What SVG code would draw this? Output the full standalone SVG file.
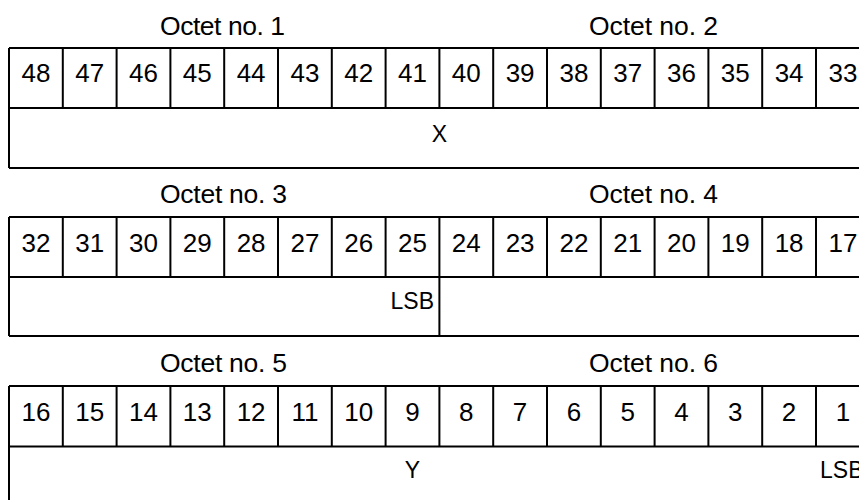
<svg xmlns="http://www.w3.org/2000/svg" width="859" height="500" viewBox="0 0 859 500">
<style>
.ln{stroke:#000;stroke-width:2;fill:none}
.t{font-family:"Liberation Sans",Arial,sans-serif;fill:#000}
.oc{font-size:26.5px}
.d{font-size:26px;text-anchor:middle}
.f{font-size:23px}
</style>
<rect width="859" height="500" fill="#fff"/>
<g id="labels">
<text class="t oc" x="160" y="35" textLength="125" lengthAdjust="spacing">Octet no. 1</text>
<text class="t oc" x="589" y="35" textLength="129" lengthAdjust="spacing">Octet no. 2</text>
<text class="t oc" x="160" y="203" textLength="127" lengthAdjust="spacing">Octet no. 3</text>
<text class="t oc" x="589" y="203" textLength="129" lengthAdjust="spacing">Octet no. 4</text>
<text class="t oc" x="160" y="372" textLength="127" lengthAdjust="spacing">Octet no. 5</text>
<text class="t oc" x="589" y="372" textLength="129" lengthAdjust="spacing">Octet no. 6</text>
</g>
<g id="row1">
<path class="ln" d="M9,48H870M9,108H870M9,168H870M9,48V168"/>
<path class="ln" d="M62.8,48V108M116.6,48V108M170.4,48V108M224.2,48V108M278,48V108M331.8,48V108M385.6,48V108M439.4,48V108M493.2,48V108M547,48V108M600.8,48V108M654.6,48V108M708.4,48V108M762.2,48V108M816,48V108"/>
<g class="t d">
<text x="35.9" y="82.3">48</text><text x="89.7" y="82.3">47</text><text x="143.5" y="82.3">46</text><text x="197.3" y="82.3">45</text><text x="251.1" y="82.3">44</text><text x="304.9" y="82.3">43</text><text x="358.7" y="82.3">42</text><text x="412.5" y="82.3">41</text><text x="466.3" y="82.3">40</text><text x="520.1" y="82.3">39</text><text x="573.9" y="82.3">38</text><text x="627.7" y="82.3">37</text><text x="681.5" y="82.3">36</text><text x="735.3" y="82.3">35</text><text x="789.1" y="82.3">34</text><text x="842.9" y="82.3">33</text>
</g>
<text class="t f" x="439.4" y="141.7" text-anchor="middle">X</text>
</g>
<g id="row2">
<path class="ln" d="M9,217H870M9,277H870M9,336H870M9,217V336M439.4,277V336"/>
<path class="ln" d="M62.8,217V277M116.6,217V277M170.4,217V277M224.2,217V277M278,217V277M331.8,217V277M385.6,217V277M439.4,217V277M493.2,217V277M547,217V277M600.8,217V277M654.6,217V277M708.4,217V277M762.2,217V277M816,217V277"/>
<g class="t d">
<text x="35.9" y="251.7">32</text><text x="89.7" y="251.7">31</text><text x="143.5" y="251.7">30</text><text x="197.3" y="251.7">29</text><text x="251.1" y="251.7">28</text><text x="304.9" y="251.7">27</text><text x="358.7" y="251.7">26</text><text x="412.5" y="251.7">25</text><text x="466.3" y="251.7">24</text><text x="520.1" y="251.7">23</text><text x="573.9" y="251.7">22</text><text x="627.7" y="251.7">21</text><text x="681.5" y="251.7">20</text><text x="735.3" y="251.7">19</text><text x="789.1" y="251.7">18</text><text x="842.9" y="251.7">17</text>
</g>
<text class="t f" x="434" y="309.3" text-anchor="end">LSB</text>
</g>
<g id="row3">
<path class="ln" d="M9,386H870M9,446.5H870M9,506H870M9,386V506"/>
<path class="ln" d="M62.8,386V446.5M116.6,386V446.5M170.4,386V446.5M224.2,386V446.5M278,386V446.5M331.8,386V446.5M385.6,386V446.5M439.4,386V446.5M493.2,386V446.5M547,386V446.5M600.8,386V446.5M654.6,386V446.5M708.4,386V446.5M762.2,386V446.5M816,386V446.5"/>
<g class="t d">
<text x="35.9" y="420.5">16</text><text x="89.7" y="420.5">15</text><text x="143.5" y="420.5">14</text><text x="197.3" y="420.5">13</text><text x="251.1" y="420.5">12</text><text x="304.9" y="420.5">11</text><text x="358.7" y="420.5">10</text><text x="412.5" y="420.5">9</text><text x="466.3" y="420.5">8</text><text x="520.1" y="420.5">7</text><text x="573.9" y="420.5">6</text><text x="627.7" y="420.5">5</text><text x="681.5" y="420.5">4</text><text x="735.3" y="420.5">3</text><text x="789.1" y="420.5">2</text><text x="842.9" y="420.5">1</text>
</g>
<text class="t f" x="412.5" y="478" text-anchor="middle">Y</text>
<text class="t f" x="820" y="478">LSB</text>
</g>
</svg>
